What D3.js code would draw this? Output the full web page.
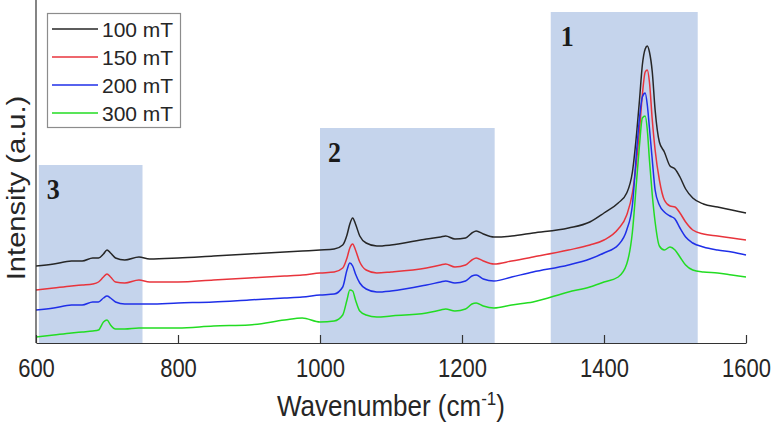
<!DOCTYPE html>
<html>
<head>
<meta charset="utf-8">
<script src="https://cdn.jsdelivr.net/npm/d3@7/dist/d3.min.js"></script>
<style>
  html, body { margin: 0; padding: 0; background: #fff; }
  text { font-family: "Liberation Sans", Arial, sans-serif; fill: #262626; }
</style>
</head>
<body>
<svg id="chart" width="773" height="425"></svg>
<script>
// ---- data ----
const wavenumber = [600,625,650,665,680,688,695,700,705,712,725,745,760,800,850,900,950,975,1000,1020,1032,1038,1042,1046,1050,1056,1065,1080,1100,1150,1170,1177,1190,1205,1214,1220,1230,1245,1270,1300,1350,1380,1400,1420,1432,1440,1446,1450,1454,1458,1461,1464,1468,1472,1478,1485,1493,1500,1507,1515,1525,1540,1560,1580,1600];
const series100 = [77,79,82,82,85, 85,89,93,90,85, 83,86,84,85,87, 89,91,92,93,94, 98,108,119,125,119, 107,100,97,98,104, 106,107,104,105,110, 112,109,106,107,110, 115,121,130,140,150, 171,210,243,278,294, 297,291,271,233,201, 191,177,174,166,154, 145,139,136,133,130];
const series150 = [53,55,57,58,59, 61,66,69,66,61, 60,63,61,61,63, 65,67,68,70,71, 75,85,95,99,93, 81,73,70,71,75, 78,79,76,78,83, 85,82,79,82,86, 93,98,103,114,128, 150,183,213,248,271, 273,261,223,193,163, 143,137,136,130,121, 113,109,107,105,103];
const series200 = [33,35,38,38,41, 41,45,47,45,41, 39,39,39,40,41, 43,45,46,48,49, 56,73,80,77,69, 60,54,51,52,58, 61,62,60,62,67, 68,64,62,66,71, 78,84,90,98,113, 138,193,225,246,250, 238,215,183,153,138, 131,127,124,115,106, 100,96,93,91,88];
const series300 = [6,8,10,11,12, 13,21,23,18,14, 14,15,15,15,17, 18,23,25,21,22, 28,43,53,52,43, 32,28,26,27,30, 33,34,32,34,39, 40,37,35,38,41, 51,56,61,66,79, 111,163,198,225,227, 213,183,148,121,97, 93,96,93,86,78, 73,71,70,68,66];
const seriesNames = ["100 mT","150 mT","200 mT","300 mT"];
const xTicks = [600,800,1000,1200,1400,1600];
// shaded regions: [start, end, top intensity, label]
const regionStart = [1325, 1000, 604];
const regionEnd   = [1532, 1246, 750];
const regionTop   = [331, 215, 178];
const regionLabel = ["1","2","3"];

// ---- layout ----
const colors = ["#262626","#e8343c","#1f2fe8","#22dc22"];
const svg = d3.select("#chart");
const mLeft = 36, mRight = 746, mTop = 0, mBottom = 343;
const x = d3.scaleLinear().domain([600,1600]).range([mLeft,mRight]);
const y = d3.scaleLinear().domain([0,343]).range([mBottom,mTop]);

// regions
const regions = regionStart.map((s,i)=>({s, e: regionEnd[i], t: regionTop[i], l: regionLabel[i]}));
svg.append("g").selectAll("rect").data(regions).join("rect")
  .attr("x", d=>x(d.s)).attr("width", d=>x(d.e)-x(d.s))
  .attr("y", d=>y(d.t)).attr("height", d=>y(0)-y(d.t))
  .attr("fill", "#c5d4ec");
svg.append("g").selectAll("text").data(regions).join("text")
  .attr("transform", d=>`translate(${x(d.s)+ (d.l==="1"?10:8)},${y(d.t)+34}) scale(1,1.1)`)
  .style("font-family", "'Liberation Serif', 'Times New Roman', serif")
  .style("font-weight", "bold").style("font-size", "26px")
  .style("fill", "#1a1a1a")
  .text(d=>d.l);

// lines
const allSeries = [series100, series150, series200, series300];
const line = d3.line().x((d,i)=>x(wavenumber[i])).y(d=>y(d)).curve(d3.curveMonotoneX);
svg.append("g").selectAll("path").data(allSeries).join("path")
  .attr("d", d=>line(d))
  .attr("fill","none")
  .attr("stroke",(d,i)=>colors[i])
  .attr("stroke-width",1.5);

// axes
const xAxis = d3.axisBottom(x).tickValues(xTicks).tickSize(-8).tickSizeOuter(0).tickFormat(d3.format("d"));
const gx = svg.append("g").attr("transform",`translate(0,${mBottom})`).call(xAxis);
gx.select(".domain").attr("stroke","#333").attr("stroke-width",1.2);
gx.selectAll(".tick line").attr("stroke","#333").attr("stroke-width",1.2);
gx.selectAll(".tick text")
  .attr("y", 0).attr("dy", 0)
  .attr("transform", "translate(0,34) scale(1,1.15)")
  .style("font-size","22px").style("font-family","'Liberation Sans', Arial, sans-serif")
  .attr("fill","#262626");

svg.append("line").attr("x1",mLeft).attr("x2",mLeft).attr("y1",mTop).attr("y2",mBottom)
  .attr("stroke","#333").attr("stroke-width",1.2);

// axis labels
svg.append("text")
  .attr("transform", `translate(${(mLeft+mRight)/2},416) scale(1,1.13)`)
  .attr("text-anchor","middle")
  .style("font-size","26px")
  .html('Wavenumber (cm<tspan dy="-10" style="font-size:17px">-1</tspan><tspan dy="10">)</tspan>');
svg.append("text")
  .attr("transform", "translate(25,188) rotate(-90) scale(1.12,1)")
  .attr("text-anchor","middle")
  .style("font-size","26px")
  .text("Intensity (a.u.)");

// legend
const lg = svg.append("g");
lg.append("rect").attr("x",47.5).attr("y",13.5).attr("width",133).attr("height",114)
  .attr("fill","#fff").attr("stroke","#8c8c8c").attr("stroke-width",1.2);
const rowY = [29,57,85,113];
seriesNames.forEach((n,i)=>{
  lg.append("line").attr("x1",52).attr("x2",98).attr("y1",rowY[i]).attr("y2",rowY[i])
    .attr("stroke",colors[i]).attr("stroke-width",1.6);
  lg.append("text").attr("x",102).attr("y",rowY[i]+8)
    .style("font-size","21px").text(n);
});
</script>
</body>
</html>
